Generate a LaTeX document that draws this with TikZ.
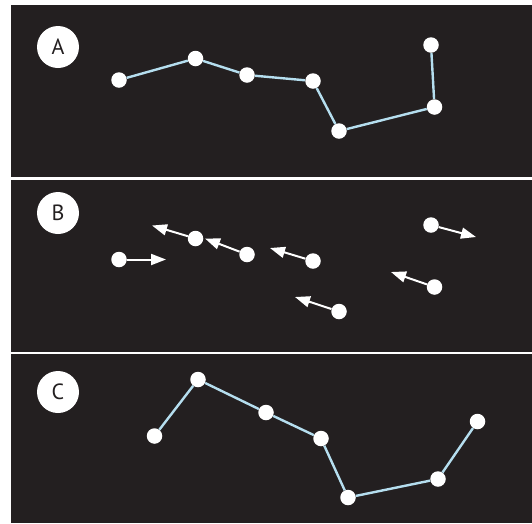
\documentclass[tikz,border=0pt]{standalone}
\usepackage{fontspec}
\setmainfont{PT Sans}
\usetikzlibrary{arrows.meta}
\definecolor{panelbg}{HTML}{231F20}
\definecolor{linkblue}{HTML}{B5DEEF}
\begin{document}
\begin{tikzpicture}[x=1pt,y=-1pt,
 dotnode/.style={circle,fill=white,inner sep=0pt,minimum size=15.5pt},
 linkline/.style={draw=linkblue,line width=2.4pt},
 vecarrow/.style={draw=white,line width=2pt,-{Triangle[length=15pt,width=11pt]}},
 tagcircle/.style={circle,fill=white,inner sep=0pt,minimum size=42pt,font=\fontsize{22}{22}\selectfont,text=panelbg},
 panelfill/.style={fill=panelbg}]
\fill[white] (0,0) rectangle (532,523);
\useasboundingbox (0,0) rectangle (532,523);
% panels
\fill[panelfill] (11,5) rectangle (532,177);
\fill[panelfill] (11,180) rectangle (532,352);
\fill[panelfill] (11,354) rectangle (532,523);
% tags
\node[tagcircle] (ta) at (58,47) {A};
\node[tagcircle] (tb) at (58,213) {B};
\node[tagcircle] (tc) at (58,392) {C};
% panel A
\node[dotnode] (a1) at (119,80) {};
\node[dotnode] (a2) at (195.5,58.5) {};
\node[dotnode] (a3) at (247,75) {};
\node[dotnode] (a4) at (313,81) {};
\node[dotnode] (a5) at (339,131) {};
\node[dotnode] (a6) at (434.5,107) {};
\node[dotnode] (a7) at (431,45) {};
\draw[linkline] (a1) -- (a2);
\draw[linkline] (a2) -- (a3);
\draw[linkline] (a3) -- (a4);
\draw[linkline] (a4) -- (a5);
\draw[linkline] (a5) -- (a6);
\draw[linkline] (a6) -- (a7);
% panel B
\node[dotnode] (b1) at (119,259.5) {};
\node[dotnode] (b2) at (195.5,238.5) {};
\node[dotnode] (b3) at (247,254.5) {};
\node[dotnode] (b4) at (313,261) {};
\node[dotnode] (b5) at (339,311.5) {};
\node[dotnode] (b6) at (434.5,287) {};
\node[dotnode] (b7) at (431,225) {};
\coordinate (e1) at (166,259.5);
\coordinate (e2) at (152,225.5);
\coordinate (e3) at (205,238.5);
\coordinate (e4) at (270,248);
\coordinate (e5) at (295,297);
\coordinate (e6) at (391,272);
\coordinate (e7) at (476,237);
\draw[vecarrow] (b1) -- (e1);
\draw[vecarrow] (b2) -- (e2);
\draw[vecarrow] (b3) -- (e3);
\draw[vecarrow] (b4) -- (e4);
\draw[vecarrow] (b5) -- (e5);
\draw[vecarrow] (b6) -- (e6);
\draw[vecarrow] (b7) -- (e7);
% panel C
\node[dotnode] (c1) at (154.5,436) {};
\node[dotnode] (c2) at (198,379.5) {};
\node[dotnode] (c3) at (266,412.5) {};
\node[dotnode] (c4) at (321,438.5) {};
\node[dotnode] (c5) at (348,497.5) {};
\node[dotnode] (c6) at (438,479) {};
\node[dotnode] (c7) at (477.5,421.5) {};
\draw[linkline] (c1) -- (c2);
\draw[linkline] (c2) -- (c3);
\draw[linkline] (c3) -- (c4);
\draw[linkline] (c4) -- (c5);
\draw[linkline] (c5) -- (c6);
\draw[linkline] (c6) -- (c7);
\end{tikzpicture}
\end{document}
